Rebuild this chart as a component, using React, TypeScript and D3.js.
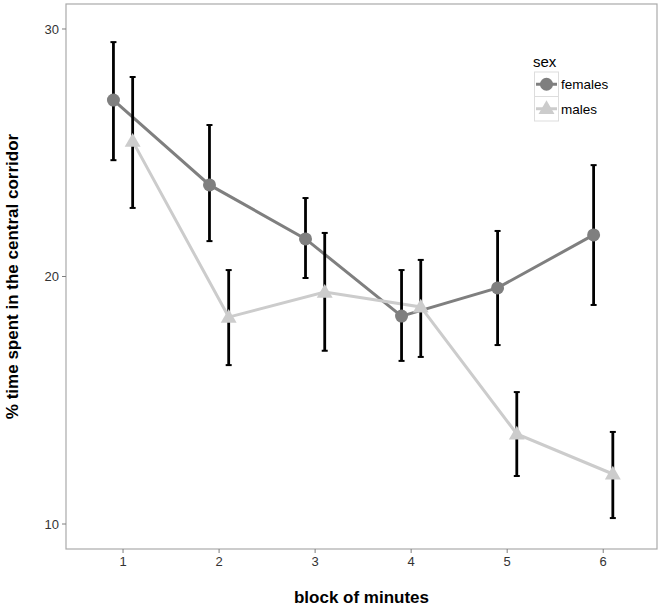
import React from "react";
import * as d3 from "d3";

const blocks = [1, 2, 3, 4, 5, 6];
const femalesMean = [27.13, 23.7, 21.52, 18.4, 19.54, 21.68];
const femalesHi = [29.47, 26.12, 23.17, 20.26, 21.84, 24.5];
const femalesLo = [24.7, 21.43, 19.94, 16.59, 17.23, 18.85];
const malesMean = [25.47, 18.36, 19.37, 18.77, 13.64, 12.02];
const malesHi = [28.06, 20.26, 21.76, 20.67, 15.33, 13.72];
const malesLo = [22.77, 16.42, 17.0, 16.75, 11.94, 10.24];
const yTicks = [10, 20, 30];
const seriesNames = ["females", "males"];

const W = 666, H = 608;
const pL = 66, pR = 657, pT = 4, pB = 549;

export default function App() {
  const x = d3.scaleLinear().domain([0.406, 6.56]).range([pL, pR]);
  const y = d3.scaleLinear().domain([8.99, 31.01]).range([pB, pT]);
  const series = [
    { name: seriesNames[0], mean: femalesMean, hi: femalesHi, lo: femalesLo, dx: -0.1, color: "#7f7f7f", shape: "circle" },
    { name: seriesNames[1], mean: malesMean, hi: malesHi, lo: malesLo, dx: 0.1, color: "#cccccc", shape: "triangle" },
  ];
  const font = "Liberation Sans, Arial, sans-serif";
  const tri = d3.symbol(d3.symbolTriangle, 110)();
  return (
    <svg width={W} height={H} style={{ position: "absolute", left: 0, top: 0, fontFamily: font }}>
      <rect x={0} y={0} width={W} height={H} fill="#fff" />
      <rect x={pL} y={pT} width={pR - pL} height={pB - pT} fill="#fff" stroke="#aaaaaa" strokeWidth={1.2} />
      {yTicks.map((t) => (
        <g key={t}>
          <line x1={pL - 4} x2={pL} y1={y(t)} y2={y(t)} stroke="#7f7f7f" strokeWidth={1} />
          <text x={pL - 7} y={y(t)} dy="0.36em" textAnchor="end" fontSize={13} fill="#333">{t}</text>
        </g>
      ))}
      {blocks.map((b) => (
        <g key={b}>
          <line x1={x(b)} x2={x(b)} y1={pB} y2={pB + 4} stroke="#7f7f7f" strokeWidth={1} />
          <text x={x(b)} y={pB + 17} textAnchor="middle" fontSize={13} fill="#333">{b}</text>
        </g>
      ))}
      <text x={(pL + pR) / 2} y={603} textAnchor="middle" fontSize={17} fontWeight="bold" fill="#000">block of minutes</text>
      <text transform={`translate(18,${(pT + pB) / 2}) rotate(-90)`} textAnchor="middle" fontSize={17} fontWeight="bold" fill="#000">% time spent in the central corridor</text>
      {series.map((s) => {
        const path = d3.line<number>().x((_, i) => x(blocks[i] + s.dx)).y((v) => y(v))(s.mean) || "";
        return <path key={s.name + "l"} d={path} fill="none" stroke={s.color} strokeWidth={3} />;
      })}
      {series.map((s) => (
        <g key={s.name + "e"}>
          {blocks.map((b, i) => {
            const cx = x(b + s.dx);
            return (
              <g key={b}>
                <line x1={cx} x2={cx} y1={y(s.hi[i])} y2={y(s.lo[i])} stroke="#000" strokeWidth={2.8} />
                <line x1={cx - 3} x2={cx + 3} y1={y(s.hi[i])} y2={y(s.hi[i])} stroke="#000" strokeWidth={2} />
                <line x1={cx - 3} x2={cx + 3} y1={y(s.lo[i])} y2={y(s.lo[i])} stroke="#000" strokeWidth={2} />
              </g>
            );
          })}
        </g>
      ))}
      {series.map((s) => (
        <g key={s.name + "p"}>
          {blocks.map((b, i) => {
            const cx = x(b + s.dx), cy = y(s.mean[i]);
            return s.shape === "circle" ? (
              <circle key={b} cx={cx} cy={cy} r={6.5} fill={s.color} />
            ) : (
              <path key={b} d={tri} transform={`translate(${cx},${cy + 1})`} fill={s.color} />
            );
          })}
        </g>
      ))}
      <g>
        <text x={533} y={67} fontSize={15} fill="#000">sex</text>
        {series.map((s, i) => {
          const ky = 72 + i * 24.5;
          return (
            <g key={s.name + "k"}>
              <rect x={534.5} y={ky} width={24} height={24.5} fill="#fff" stroke="#dddddd" strokeWidth={1} />
              <line x1={536} x2={557} y1={ky + 12.25} y2={ky + 12.25} stroke={s.color} strokeWidth={3} />
              {s.shape === "circle" ? (
                <circle cx={546.5} cy={ky + 12.25} r={6.5} fill={s.color} />
              ) : (
                <path d={tri} transform={`translate(546.5,${ky + 13})`} fill={s.color} />
              )}
              <text x={561} y={ky + 12.25} dy="0.36em" fontSize={13.5} fill="#000">{s.name}</text>
            </g>
          );
        })}
      </g>
    </svg>
  );
}
